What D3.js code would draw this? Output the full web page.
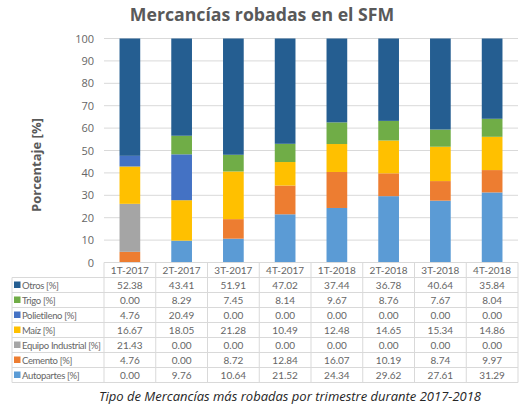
<!DOCTYPE html>
<html>
<head>
<meta charset="utf-8">
<script src="https://cdn.jsdelivr.net/npm/d3@7"></script>
<style>
  body { margin: 0; background: #fff; }
  svg { display: block; }
</style>
</head>
<body>
<svg id="chart"></svg>
<script>
// quarters and series (percent of stolen goods)
const quarters = ["1T-2017", "2T-2017", "3T-2017", "4T-2017", "1T-2018", "2T-2018", "3T-2018", "4T-2018"];
const autopartes = [0.00, 9.76, 10.64, 21.52, 24.34, 29.62, 27.61, 31.29];
const cemento = [4.76, 0.00, 8.72, 12.84, 16.07, 10.19, 8.74, 9.97];
const equipoIndustrial = [21.43, 0.00, 0.00, 0.00, 0.00, 0.00, 0.00, 0.00];
const maiz = [16.67, 18.05, 21.28, 10.49, 12.48, 14.65, 15.34, 14.86];
const polietileno = [4.76, 20.49, 0.00, 0.00, 0.00, 0.00, 0.00, 0.00];
const trigo = [0.00, 8.29, 7.45, 8.14, 9.67, 8.76, 7.67, 8.04];
const otros = [52.38, 43.41, 51.91, 47.02, 37.44, 36.78, 40.64, 35.84];
const yTicks = [0, 10, 20, 30, 40, 50, 60, 70, 80, 90, 100];

// bottom to top in the stack
const series = [
  { key: "autopartes", label: "Autopartes [%]", color: "#5B9BD5", values: autopartes },
  { key: "cemento", label: "Cemento  [%]", color: "#ED7D31", values: cemento },
  { key: "equipo", label: "Equipo Industrial [%]", color: "#A5A5A5", values: equipoIndustrial },
  { key: "maiz", label: "Maíz  [%]", color: "#FFC000", values: maiz },
  { key: "polietileno", label: "Polietileno [%]", color: "#4472C4", values: polietileno },
  { key: "trigo", label: "Trigo [%]", color: "#70AD47", values: trigo },
  { key: "otros", label: "Otros [%]", color: "#255E91", values: otros }
];

const W = 529, H = 419;
const plot = { left: 104, right: 518, top: 38.5, bottom: 262.5 };
const tableLeft = 12, rowH = 15;

const svg = d3.select("#chart").attr("width", W).attr("height", H);

const rows = quarters.map((q, i) => {
  const r = { quarter: q };
  series.forEach(s => r[s.key] = s.values[i]);
  return r;
});
const stacked = d3.stack().keys(series.map(s => s.key))(rows);

const x = d3.scaleBand()
  .domain(quarters)
  .range([plot.left, plot.right])
  .paddingInner(0.6)
  .paddingOuter(0.3);

const xCol = d3.scaleBand()
  .domain(quarters)
  .range([plot.left, plot.right]);

const y = d3.scaleLinear()
  .domain([0, 100])
  .range([plot.bottom, plot.top]);

// title
svg.append("text")
  .attr("x", 262).attr("y", 21)
  .attr("text-anchor", "middle")
  .style("font-family", "Open Sans, sans-serif")
  .style("font-weight", "bold")
  .style("font-size", "17.7px")
  .style("fill", "#595959")
  .text("Mercancías robadas en el SFM");

// gridlines
svg.append("g")
  .selectAll("line")
  .data(yTicks.slice(1))
  .enter().append("line")
  .attr("x1", plot.left).attr("x2", plot.right)
  .attr("y1", d => y(d)).attr("y2", d => y(d))
  .style("stroke", "#D9D9D9")
  .style("stroke-width", 1);

// y axis
const yAxis = svg.append("g")
  .attr("transform", `translate(${plot.left},0)`)
  .call(d3.axisLeft(y).tickValues(yTicks).tickSize(0).tickPadding(10));
yAxis.select(".domain").remove();
yAxis.selectAll("text")
  .style("font-family", "Open Sans, sans-serif")
  .style("font-size", "11px")
  .style("fill", "#666");

// y label
svg.append("text")
  .attr("transform", "translate(41,165) rotate(-90)")
  .attr("text-anchor", "middle")
  .style("font-family", "Open Sans, sans-serif")
  .style("font-weight", "bold")
  .style("font-size", "13px")
  .style("fill", "#595959")
  .text("Porcentaje [%]");

// stacked bars
svg.append("g")
  .selectAll("g")
  .data(stacked)
  .enter().append("g")
  .style("fill", (d, i) => series[i].color)
  .selectAll("rect")
  .data(d => d)
  .enter().append("rect")
  .attr("x", d => x(d.data.quarter))
  .attr("width", x.bandwidth())
  .attr("y", d => y(d[1]))
  .attr("height", d => y(d[0]) - y(d[1]));

// data table
const table = svg.append("g")
  .style("font-family", "Lato, sans-serif")
  .style("font-size", "10px")
  .style("fill", "#666");

const tableRows = series.slice().reverse();
const headTop = plot.bottom;
const bodyTop = headTop + rowH;
const bodyBottom = bodyTop + rowH * tableRows.length;
const lineStyle = sel => sel.style("stroke", "#D9D9D9").style("stroke-width", 1);

// horizontal borders
table.append("line").attr("x1", plot.left).attr("x2", plot.right)
  .attr("y1", headTop).attr("y2", headTop).call(lineStyle);
table.selectAll(".hline")
  .data(d3.range(tableRows.length + 1))
  .enter().append("line")
  .attr("x1", tableLeft).attr("x2", plot.right)
  .attr("y1", i => bodyTop + i * rowH).attr("y2", i => bodyTop + i * rowH)
  .call(lineStyle);

// vertical borders
table.append("line").attr("x1", tableLeft).attr("x2", tableLeft)
  .attr("y1", bodyTop).attr("y2", bodyBottom).call(lineStyle);
table.selectAll(".vline")
  .data(quarters.concat(["end"]))
  .enter().append("line")
  .attr("x1", (d, i) => i < quarters.length ? xCol(d) : plot.right)
  .attr("x2", (d, i) => i < quarters.length ? xCol(d) : plot.right)
  .attr("y1", headTop).attr("y2", bodyBottom)
  .call(lineStyle);

// header
table.selectAll(".head")
  .data(quarters)
  .enter().append("text")
  .attr("x", d => xCol(d) + xCol.bandwidth() / 2)
  .attr("y", headTop + 11)
  .attr("text-anchor", "middle")
  .text(d => d);

// row labels with colour keys
const rowG = table.selectAll(".row")
  .data(tableRows)
  .enter().append("g")
  .attr("transform", (d, i) => `translate(0,${bodyTop + i * rowH})`);

rowG.append("rect")
  .attr("x", tableLeft + 2).attr("y", 4)
  .attr("width", 6.5).attr("height", 6.5)
  .style("fill", d => d.color);

rowG.append("text")
  .attr("x", tableLeft + 10).attr("y", 11)
  .style("font-size", "9.5px")
  .style("letter-spacing", "-0.35px")
  .text(d => d.label);

rowG.selectAll(".val")
  .data(d => d.values)
  .enter().append("text")
  .attr("x", (v, i) => xCol(quarters[i]) + xCol.bandwidth() / 2)
  .attr("y", 11)
  .attr("text-anchor", "middle")
  .text(v => v.toFixed(2));

// caption
svg.append("text")
  .attr("x", 290).attr("y", 401)
  .attr("text-anchor", "middle")
  .style("font-family", "Open Sans, sans-serif")
  .style("font-style", "italic")
  .style("font-size", "13px")
  .style("fill", "#262626")
  .text("Tipo de Mercancías más robadas por trimestre durante 2017-2018");
</script>
</body>
</html>
